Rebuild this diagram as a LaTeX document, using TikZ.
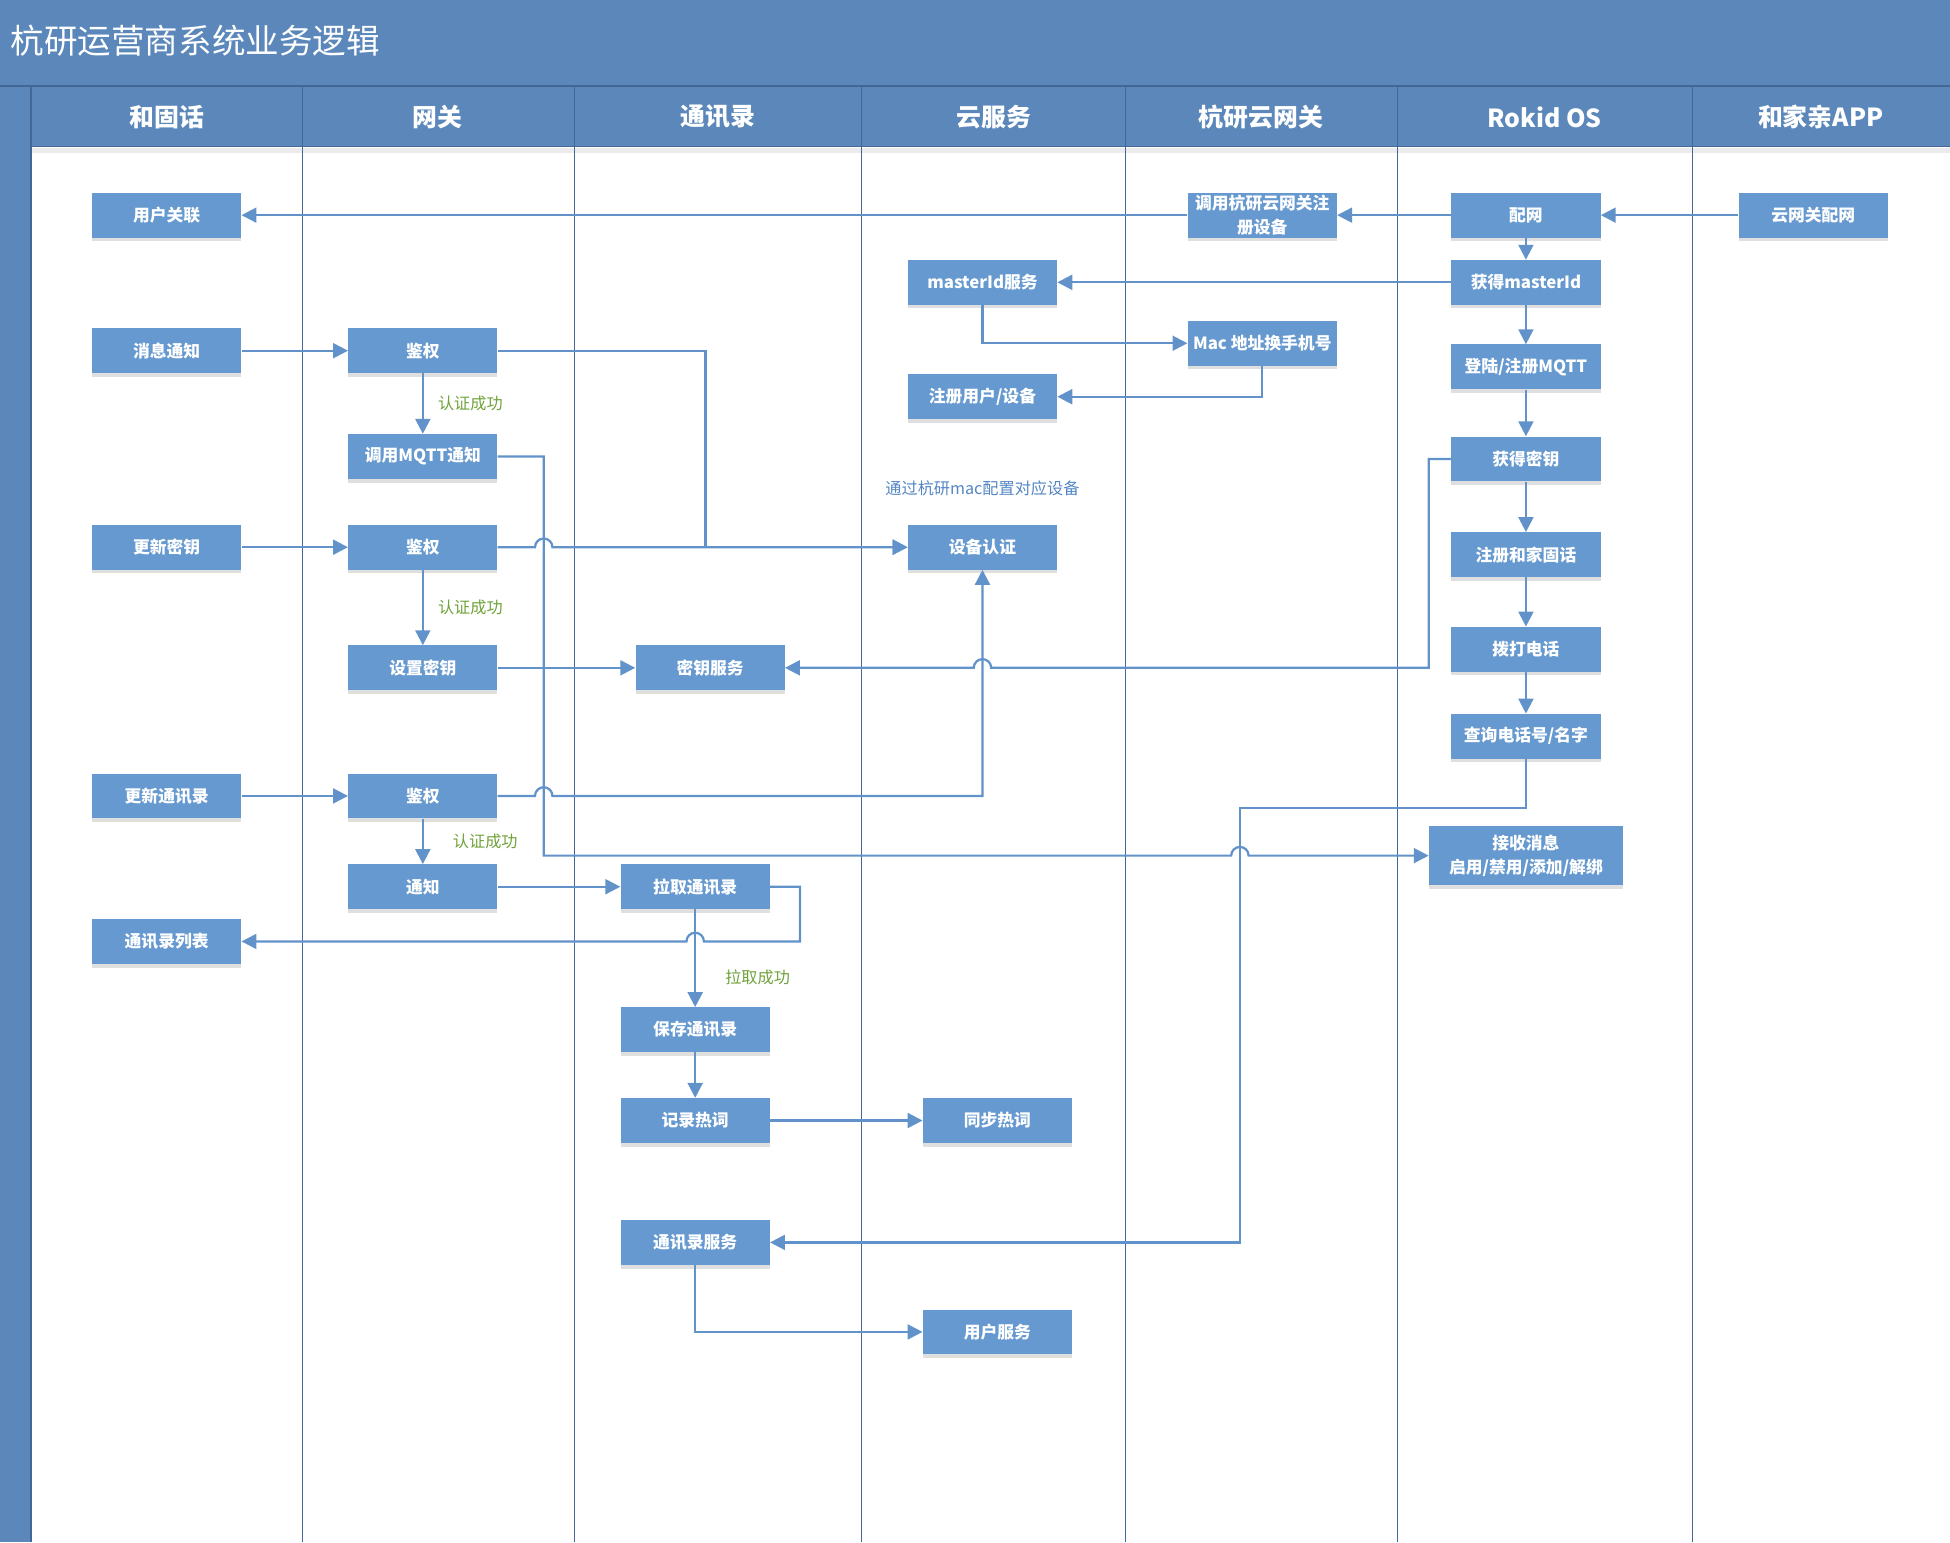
\documentclass[tikz,border=0pt]{standalone}
\usepackage{fontspec}
\newfontfamily\cjk{Noto Sans CJK SC}
\usetikzlibrary{arrows.meta,shadows,calc}
\definecolor{laneblue}{RGB}{91,135,186}
\definecolor{boxblue}{RGB}{102,153,207}
\definecolor{flowblue}{RGB}{98,146,202}
\definecolor{edgeblue}{RGB}{68,104,150}
\definecolor{okgreen}{RGB}{112,162,58}
\definecolor{notecolor}{RGB}{84,134,196}
\tikzset{
    proc/.style={
           rectangle,
           fill=boxblue,
           text=white,
           font=\cjk\bfseries\fontsize{13.5}{19}\selectfont,
           minimum width=120pt,
           minimum height=36pt,
           inner sep=2pt,
           align=center,
           drop shadow={shadow xshift=0pt,shadow yshift=-3pt,opacity=0.25,fill=black!50}
           },
    lanehead/.style={
           text=white,
           font=\cjk\bfseries\fontsize{20}{24}\selectfont
           },
    okay/.style={
           text=okgreen,
           font=\cjk\fontsize{13}{16}\selectfont
           },
    flow/.style={
           -{Triangle[length=12pt,width=12pt,fill=flowblue]},
           color=flowblue,
           line width=1.8pt
           },
}

\begin{document}
\begin{tikzpicture}[x=1pt,y=-1pt]
             \useasboundingbox (0,0) rectangle (1568,1240);

             % title band, lane heads and left strip
             \fill[laneblue] (0,0) rectangle (1568,118);
             \fill[laneblue] (0,118) rectangle (25,1240);
             \draw[edgeblue, line width=1.2pt] (0,69) -- (1568,69);
             \draw[edgeblue, line width=1.2pt] (25,118) -- (1568,118);
             \fill[black, opacity=0.08] (25,119) rectangle (1568,123);
             \draw[edgeblue, line width=1pt]
                  (25,69) -- (25,1240)
                  (243,69) -- (243,1240)
                  (462,69) -- (462,1240)
                  (693,69) -- (693,1240)
                  (905,69) -- (905,1240)
                  (1124,69) -- (1124,1240)
                  (1361,69) -- (1361,1240);

             \node[anchor=west, text=white,
                   font=\cjk\fontsize{27}{30}\selectfont] (title) at (5,33)
             {杭研运营商系统业务逻辑};

             \node[lanehead] (hFixed) at (134,94) {和固话};
             \node[lanehead] (hGate) at (352,94) {网关};
             \node[lanehead] (hBook) at (577,94) {通讯录};
             \node[lanehead] (hCloud) at (799,94) {云服务};
             \node[lanehead] (hHyGate) at (1014,94) {杭研云网关};
             \node[lanehead] (hRokid) at (1242,94) {Rokid OS};
             \node[lanehead] (hApp) at (1464,94) {和家亲APP};

             % 和固话
             \node[proc] (link) at (134,173) {用户关联};
             \node[proc] (msg) at (134,282) {消息通知};
             \node[proc] (upkey) at (134,440) {更新密钥};
             \node[proc] (upbook) at (134,640) {更新通讯录};
             \node[proc] (booklist) at (134,757) {通讯录列表};

             % 网关
             \node[proc] (auth1) at (340,282) {鉴权};
             \node[proc,
              below of=auth1,
              node distance=85pt,
              anchor=center] (mqtt) {调用MQTT通知};
             \node[proc] (auth2) at (340,440) {鉴权};
             \node[proc,
              below of=auth2,
              node distance=97pt,
              anchor=center] (setkey) {设置密钥};
             \node[proc] (auth3) at (340,640) {鉴权};
             \node[proc,
              below of=auth3,
              node distance=73pt,
              anchor=center] (notify) {通知};

             % 通讯录
             \node[proc] (keysvc) at (571,537) {密钥服务};
             \node[proc] (pull) at (559,713) {拉取通讯录};
             \node[proc,
              below of=pull,
              node distance=115pt,
              anchor=center] (save) {保存通讯录};
             \node[proc,
              below of=save,
              node distance=73pt,
              anchor=center] (hotword) {记录热词};
             \node[proc] (booksvc) at (559,999) {通讯录服务};

             % 云服务
             \node[proc] (mastersvc) at (790,227) {masterId服务};
             \node[proc] (reguser) at (790,319) {注册用户/设备};
             \node[text=notecolor, font=\cjk\fontsize{13}{16}\selectfont] (macnote) at (790,393)
             {通过杭研mac配置对应设备};
             \node[proc] (devauth) at (790,440) {设备认证};
             \node[proc] (synchot) at (802,901) {同步热词};
             \node[proc] (usersvc) at (802,1071) {用户服务};

             % 杭研云网关
             \node[proc] (hyreg) at (1015,173) {调用杭研云网关注\\册设备};
             \node[proc] (mac2tel) at (1015,276) {Mac 地址换手机号};

             % Rokid OS
             \node[proc] (netcfg) at (1227,173) {配网};
             \node[proc, below of=netcfg, node distance=54pt, anchor=center] (getmid) {获得masterId};
             \node[proc, below of=getmid, node distance=68pt, anchor=center] (mqttlogin) {登陆/注册MQTT};
             \node[proc, below of=mqttlogin, node distance=74pt, anchor=center] (getkey) {获得密钥};
             \node[proc, below of=getkey, node distance=77pt, anchor=center] (regphone) {注册和家固话};
             \node[proc, below of=regphone, node distance=76pt, anchor=center] (dial) {拨打电话};
             \node[proc, below of=dial, node distance=70pt, anchor=center] (query) {查询电话号/名字};
             \node[proc,
%              text width=150pt,
              minimum width=156pt,
              minimum height=47pt] (recv) at (1227,688)
             {接收消息\\启用/禁用/添加/解绑};

             % 和家亲APP
             \node[proc] (appcfg) at (1458,173) {云网关配网};

             \path[flow]
             (appcfg)   edge (netcfg)
             (netcfg)   edge (hyreg)
             (hyreg)    edge (link)
             (netcfg)   edge (getmid)
             (getmid)   edge (mastersvc)
             (getmid)   edge (mqttlogin)
             (mqttlogin) edge (getkey)
             (getkey)   edge (regphone)
             (regphone) edge (dial)
             (dial)     edge (query)
             (msg)      edge (auth1)
             (auth1)    edge node[okay, right=8pt] (okMqtt) {认证成功} (mqtt)
             (upkey)    edge (auth2)
             (auth2)    edge node[okay, right=8pt] (okKey) {认证成功} (setkey)
             (setkey)   edge (keysvc)
             (upbook)   edge (auth3)
             (auth3)    edge node[okay, right=20pt] (okBook) {认证成功} (notify)
             (notify)   edge (pull)
             (pull)     edge node[okay, pos=0.7, right=20pt] (okPull) {拉取成功} (save)
             (save)     edge (hotword)
             (hotword)  edge (synchot)
             ;

             % routed connectors, with hops over crossing lines
             \coordinate (qbend) at (997,650);
             \draw[flow] (mastersvc.south) |- (mac2tel.west);
             \draw[flow] (mac2tel.south) |- (reguser.east);
             \draw[flow] (auth1.east) -- ++(167,0) |- (devauth.west);
             \draw[flow] (auth2.east) -- ++(30,0) arc[start angle=180, end angle=0, radius=7pt] -- (devauth.west);
             \draw[flow] (auth3.east) -- ++(30,0) arc[start angle=180, end angle=0, radius=7pt] -| (devauth.south);
             \draw[flow] (mqtt.east) -- ++(37,0) |- ($(qbend |- recv.west)+(-7,0)$)
                  arc[start angle=180, end angle=0, radius=7pt] -- (recv.west);
             \draw[flow] (getkey.west) -- ++(-18,0) |- ($(devauth.south |- keysvc.east)+(7,0)$)
                  arc[start angle=0, end angle=180, radius=7pt] -- (keysvc.east);
             \draw[flow] (query.south) |- (qbend) |- (booksvc.east);
             \draw[flow] (pull.east) -- ++(24,0) |- ($(pull.south |- booklist.east)+(7,0)$)
                  arc[start angle=0, end angle=180, radius=7pt] -- (booklist.east);
             \draw[flow] (booksvc.south) |- (usersvc.west);

\end{tikzpicture}
\end{document}
